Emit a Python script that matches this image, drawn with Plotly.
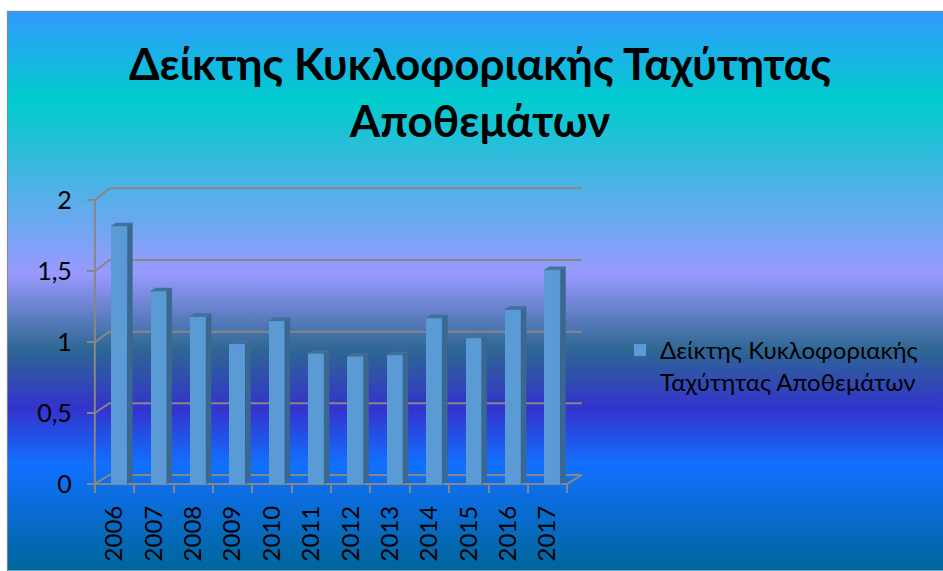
import base64
import plotly.graph_objects as go

# ---- data -------------------------------------------------------------
years = ["2006", "2007", "2008", "2009", "2010", "2011",
         "2012", "2013", "2014", "2015", "2016", "2017"]
values = [1.82, 1.36, 1.18, 0.99, 1.15, 0.92, 0.90, 0.91, 1.17, 1.03, 1.23, 1.51]
y_ticks = [0, 0.5, 1, 1.5, 2]
series_name = "Δείκτης Κυκλοφοριακής<br>Ταχύτητας Αποθεμάτων"
chart_title = "Δείκτης Κυκλοφοριακής Ταχύτητας<br>Αποθεμάτων"

# ---- geometry ---------------------------------------------------------
W, H = 943, 571
X_RANGE = [-0.75, 11.95]
Y_RANGE = [-0.05, 2.2]
PX_CAT = 39.33          # pixels per category
PX_UNIT = 142.0         # pixels per value unit
AX_X = 95.0             # pixel x of the front value axis (x = -0.5)
AX_Y = 484.0            # pixel y of the floor front edge (y = 0)

plot_left = AX_X + (X_RANGE[0] + 0.5) * PX_CAT
plot_right = AX_X + (X_RANGE[1] + 0.5) * PX_CAT
plot_bottom = AX_Y - Y_RANGE[0] * PX_UNIT
plot_top = AX_Y - Y_RANGE[1] * PX_UNIT
plot_w = plot_right - plot_left
plot_h = plot_bottom - plot_top


def px_to_paper_x(px):
    return (px - plot_left) / plot_w


def px_to_paper_y(py):
    return (plot_bottom - py) / plot_h


# depth of the 3-D walls
WALL_DX = 14.5 / PX_CAT
X_FRONT = -0.5
X_END = len(years) - 0.5


def back_y(v):
    return v * (1 + 3 / (2 * PX_UNIT)) + 9 / PX_UNIT


# bar geometry (category units / value units)
BAR_OFFSET = -0.085
BAR_WIDTH = 0.41
BAR_DX = 5 / PX_CAT
BAR_DY = 3 / PX_UNIT

FRONT = "#5B9BD5"
SIDE = "#3B6890"
TOP = "#41719C"
GRID = "#878787"
FONT = "Lato, Open Sans, sans-serif"

# ---- background (Peacock gradient) ------------------------------------
bg_x0, bg_y0 = 7, 10
bg_w, bg_h = W - bg_x0, H - bg_y0
svg = f'''<svg xmlns="http://www.w3.org/2000/svg" width="{bg_w}" height="{bg_h}" viewBox="0 0 {bg_w} {bg_h}" preserveAspectRatio="none">
<defs><linearGradient id="g" x1="0" y1="0" x2="0" y2="1">
<stop offset="0" stop-color="#3399FF"/>
<stop offset="0.16" stop-color="#00CCCC"/>
<stop offset="0.47" stop-color="#9999FF"/>
<stop offset="0.605" stop-color="#2E6792"/>
<stop offset="0.71" stop-color="#3333CC"/>
<stop offset="0.81" stop-color="#1170FF"/>
<stop offset="1" stop-color="#006699"/>
</linearGradient></defs>
<rect x="0" y="0" width="{bg_w}" height="{bg_h}" fill="url(#g)"/>
<path d="M0.5,{bg_h} L0.5,0.5 L{bg_w},0.5" fill="none" stroke="#8C8C8C" stroke-width="1.2"/>
</svg>'''
bg_src = "data:image/svg+xml;base64," + base64.b64encode(svg.encode("utf-8")).decode("ascii")

# ---- traces -----------------------------------------------------------
idx = list(range(len(years)))

fig = go.Figure()

fig.add_trace(go.Bar(
    x=idx, y=values, name=series_name,
    offset=BAR_OFFSET, width=BAR_WIDTH,
    marker=dict(color=FRONT, line=dict(width=0)),
    hovertext=years, hoverinfo="text+y",
))

# side and top faces of every column, one closed polygon each
for i, v in zip(idx, values):
    xl = i + BAR_OFFSET
    xr = xl + BAR_WIDTH
    fig.add_trace(go.Scatter(
        x=[xr, xr + BAR_DX, xr + BAR_DX, xr, xr],
        y=[0, BAR_DY, v + BAR_DY, v, 0],
        mode="lines", fill="toself", fillcolor=SIDE,
        line=dict(color=SIDE, width=0.5), hoverinfo="skip", showlegend=False,
        xaxis="x2",
    ))
    fig.add_trace(go.Scatter(
        x=[xl, xl + BAR_DX, xr + BAR_DX, xr, xl],
        y=[v, v + BAR_DY, v + BAR_DY, v, v],
        mode="lines", fill="toself", fillcolor=TOP,
        line=dict(color=TOP, width=0.5), hoverinfo="skip", showlegend=False,
        xaxis="x2",
    ))

# ---- walls, floor and gridlines ---------------------------------------
shapes = []
for v in y_ticks:
    shapes.append(dict(
        type="path", xref="x", yref="y", layer="below",
        path=f"M{X_FRONT},{v} L{X_FRONT + WALL_DX},{back_y(v)} L{X_END + WALL_DX},{back_y(v)}",
        line=dict(color=GRID, width=2),
    ))
# front value axis
shapes.append(dict(type="line", xref="x", yref="y", layer="below",
                   x0=X_FRONT, x1=X_FRONT, y0=0, y1=y_ticks[-1],
                   line=dict(color=GRID, width=2)))
# floor front edge and right-hand depth edge
shapes.append(dict(type="path", xref="x", yref="y", layer="below",
                   path=f"M{X_FRONT},0 L{X_END},0 L{X_END + WALL_DX},{back_y(0)}",
                   line=dict(color=GRID, width=2)))

fig.update_layout(
    width=W, height=H,
    margin=dict(l=plot_left, r=W - plot_right, t=plot_top, b=H - plot_bottom,
                pad=0, autoexpand=False),
    paper_bgcolor="rgba(0,0,0,0)",
    plot_bgcolor="rgba(0,0,0,0)",
    separators=",.",
    font=dict(family=FONT, color="#000000"),
    title=dict(
        text=chart_title,
        font=dict(family=FONT, size=44, weight="bold", color="#000000"),
        x=480 / W, xanchor="center", xref="container",
        y=1 - 80 / H, yanchor="top", yref="container",
    ),
    showlegend=True,
    legend=dict(
        x=620 / W, xref="container", xanchor="left",
        y=1 - 328 / H, yref="container", yanchor="top",
        valign="top", bgcolor="rgba(0,0,0,0)",
        font=dict(family=FONT, size=24, color="#000000"),
    ),
    bargap=0,
    shapes=shapes,
    images=[dict(
        source=bg_src, xref="paper", yref="paper",
        x=px_to_paper_x(bg_x0), y=px_to_paper_y(bg_y0),
        sizex=bg_w / plot_w, sizey=bg_h / plot_h,
        xanchor="left", yanchor="top", sizing="stretch", layer="below",
    )],
    xaxis=dict(
        range=X_RANGE, showgrid=False, zeroline=False, showline=False,
        tickmode="array", tickvals=[i - 0.5 for i in range(len(years) + 1)],
        ticktext=[""] * (len(years) + 1),
        ticks="outside", ticklen=8, tickwidth=2, tickcolor=GRID,
        anchor="free", position=px_to_paper_y(AX_Y),
    ),
    xaxis2=dict(
        range=X_RANGE, overlaying="x", matches="x", side="bottom",
        anchor="free", position=px_to_paper_y(AX_Y),
        showgrid=False, zeroline=False, showline=False,
        tickmode="array", tickvals=idx, ticktext=years, tickangle=-90,
        ticks="", ticklabelstandoff=16,
        tickfont=dict(family=FONT, size=24, color="#000000"),
    ),
    yaxis=dict(
        range=Y_RANGE, showgrid=False, zeroline=False, showline=False,
        tickmode="array", tickvals=y_ticks,
        ticks="outside", ticklen=8, tickwidth=2, tickcolor=GRID,
        ticklabelstandoff=10,
        tickfont=dict(family=FONT, size=25, color="#000000"),
        anchor="free", position=px_to_paper_x(AX_X),
    ),
)

fig.write_html("out.html")
